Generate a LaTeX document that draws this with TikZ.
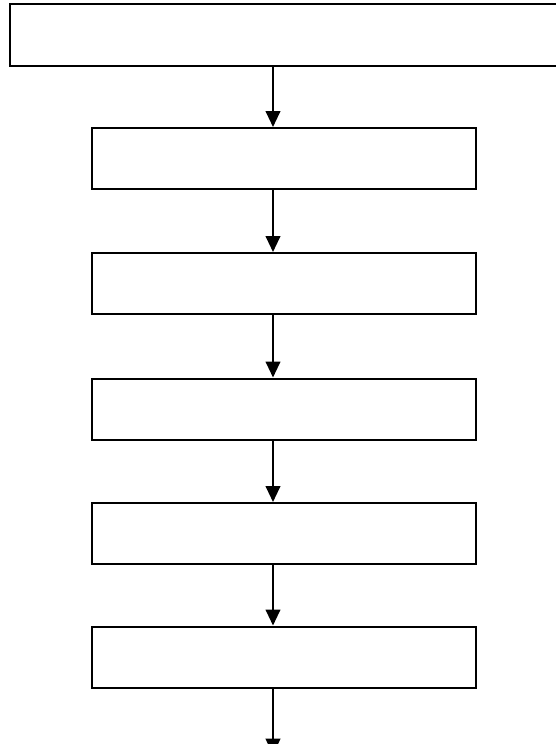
\documentclass[tikz,border=0pt]{standalone}
\usetikzlibrary{arrows.meta}
\begin{document}
\begin{tikzpicture}[x=0.75pt,y=-0.75pt,
  flowbox/.style={draw=black,line width=1.5pt,rectangle,minimum width=384*0.75pt,minimum height=61*0.75pt,inner sep=0pt,fill=white},
  topbox/.style={draw=black,line width=1.5pt,rectangle,minimum width=560*0.75pt,minimum height=62*0.75pt,inner sep=0pt},
  flowarrow/.style={draw=black,line width=1.5pt,-{Triangle[length=12pt,width=11pt]}}]
\useasboundingbox (0,0) rectangle (556,744);
\begin{scope}
\clip (0,0) rectangle (556,744);
\node[topbox] (t) at (290,35) {};
\node[flowbox] (b1) at (284,158.5) {};
\node[flowbox] (b2) at (284,283.5) {};
\node[flowbox] (b3) at (284,409) {};
\node[flowbox] (b4) at (284,533.5) {};
\node[flowbox] (b5) at (284,657) {};
\coordinate (end) at (273,744);
\draw[flowarrow] (t.south -| end) -- (b1.north -| end);
\draw[flowarrow] (b1.south -| end) -- (b2.north -| end);
\draw[flowarrow] (b2.south -| end) -- (b3.north -| end);
\draw[flowarrow] (b3.south -| end) -- (b4.north -| end);
\draw[flowarrow] (b4.south -| end) -- (b5.north -| end);
\draw[flowarrow] (b5.south -| end) -- ([yshift=-8pt]end);
\end{scope}
\end{tikzpicture}
\end{document}
